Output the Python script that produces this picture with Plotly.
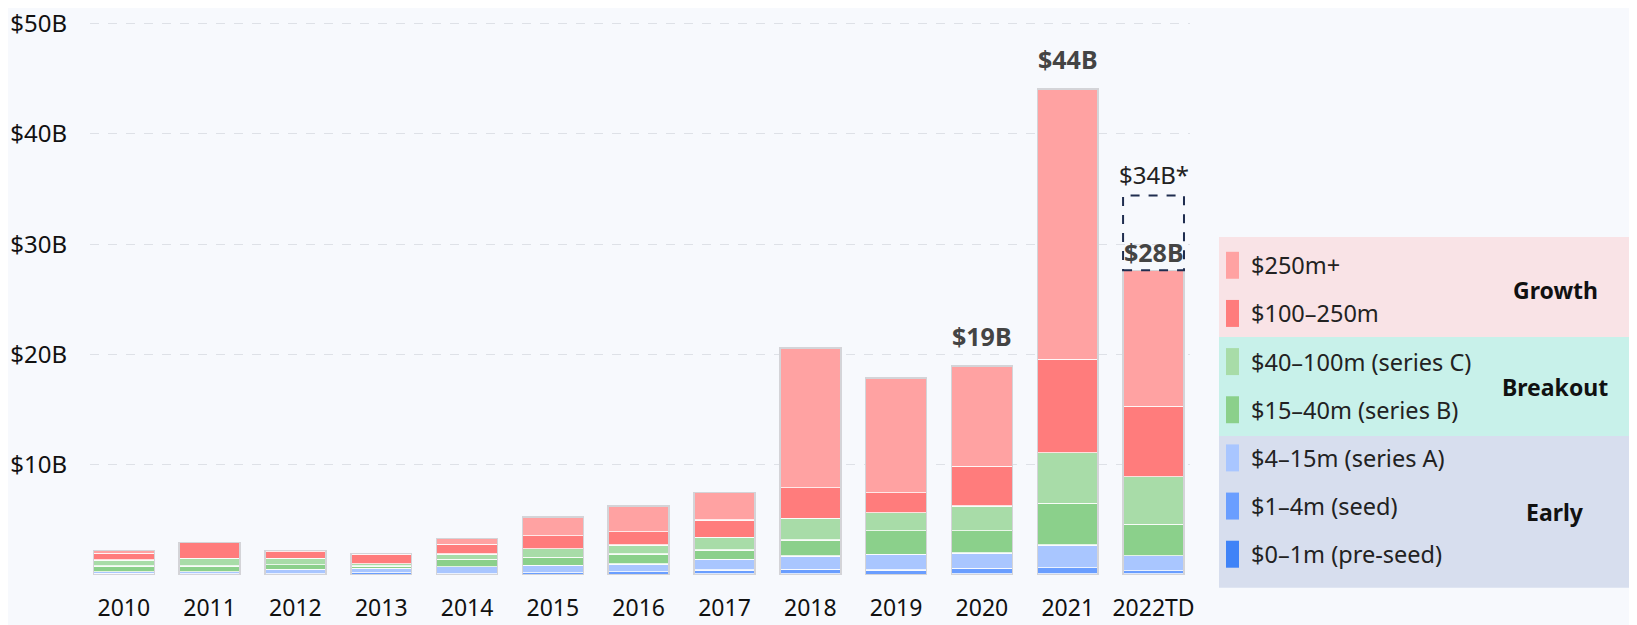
import plotly.graph_objects as go

years = ["2010", "2011", "2012", "2013", "2014", "2015", "2016", "2017", "2018", "2019", "2020", "2021", "2022TD"]

# values in $B, bottom to top of each stack
pre_seed = [0.05, 0.03, 0.03, 0.05, 0.03, 0.05, 0.08, 0.10, 0.10, 0.08, 0.10, 0.12, 0.10]
seed     = [0.10, 0.07, 0.07, 0.15, 0.07, 0.16, 0.22, 0.35, 0.42, 0.37, 0.51, 0.54, 0.29]
series_a = [0.15, 0.20, 0.42, 0.40, 0.65, 0.67, 0.70, 0.97, 1.20, 1.43, 1.39, 2.06, 1.36]
series_b = [0.52, 0.52, 0.40, 0.22, 0.67, 0.72, 0.90, 0.84, 1.45, 2.13, 2.01, 3.77, 2.84]
series_c = [0.54, 0.69, 0.59, 0.22, 0.48, 0.77, 0.82, 1.15, 1.96, 1.63, 2.24, 4.59, 4.31]
m100_250 = [0.61, 1.42, 0.60, 0.85, 0.88, 1.20, 1.20, 1.57, 2.78, 1.81, 3.62, 8.46, 6.41]
m250_plus = [0.23, 0.00, 0.10, 0.05, 0.54, 1.69, 2.33, 2.51, 12.69, 10.42, 9.06, 24.54, 12.32]

series_names = ["$0–1m (pre-seed)", "$1–4m (seed)", "$4–15m (series A)", "$15–40m (series B)",
                "$40–100m (series C)", "$100–250m", "$250m+"]
series_values = [pre_seed, seed, series_a, series_b, series_c, m100_250, m250_plus]
series_colors = ["#3F83F7", "#6A9EFF", "#A9C6FF", "#8BD08B", "#A8DCA8", "#FF7C7C", "#FFA2A2"]

labeled_years = ["2020", "2021", "2022TD"]
projection_2022 = 34.4
projection_label = "$34B*"

y_ticks = [0, 10, 20, 30, 40, 50]
y_ticktext = ["", "$10B", "$20B", "$30B", "$40B", "$50B"]

groups = [("Growth", ["$250m+", "$100–250m"], "#F9E3E6"),
          ("Breakout", ["$40–100m (series C)", "$15–40m (series B)"], "#C8F1EA"),
          ("Early", ["$4–15m (series A)", "$1–4m (seed)", "$0–1m (pre-seed)"], "#D7DEEE")]

FONT = "Noto Sans"
BG = "#F7F9FD"

totals = [sum(v[i] for v in series_values) for i in range(len(years))]

fig = go.Figure()
for name, vals, col in zip(series_names, series_values, series_colors):
    fig.add_trace(go.Bar(x=years, y=vals, name=name, marker=dict(color=col, line=dict(color="rgba(255,255,255,0.75)", width=1.2)),
                         hoverinfo="skip", showlegend=False))

# outline of whole stacks
fig.add_trace(go.Bar(x=years, y=totals, xaxis="x2", marker=dict(color="rgba(0,0,0,0)", line=dict(color="#D4D4D8", width=1.5)),
                     hoverinfo="skip", showlegend=False))

# page body has an 8px margin; figure sized to fill the rest of the window
OFF = 8
W, H = 1637 - OFF, 625 - OFF
L = 90 - OFF
R = 1637 - 1190
T = 17.5 - OFF
B = 625 - 575
pw, ph = W - L - R, H - T - B

def px2paper_x(px):
    return (px - OFF - L) / pw

def px2paper_y(py):
    return (H - B - (py - OFF)) / ph

shapes = []
annotations = []

# dashed projection box for 2022TD
i22 = years.index("2022TD")
shapes.append(dict(type="rect", xref="x", yref="y", x0=i22 - 0.355, x1=i22 + 0.355,
                   y0=totals[i22], y1=projection_2022, line=dict(color="#1F2D4F", width=2, dash="dash"),
                   fillcolor="rgba(0,0,0,0)", layer="above"))
annotations.append(dict(x=i22, y=projection_2022, xref="x", yref="y", text=projection_label, showarrow=False,
                        yanchor="bottom", yshift=3, font=dict(family=FONT, size=24, color="#222")))

label_shift = {"2020": 11, "2021": 11, "2022TD": -1}
for yr in labeled_years:
    i = years.index(yr)
    annotations.append(dict(x=i, y=totals[i], xref="x", yref="y", text=f"<b>${round(totals[i])}B</b>", showarrow=False,
                            yanchor="bottom", yshift=label_shift[yr], font=dict(family=FONT, size=25, color="#444")))

# custom legend
box_tops = [236.7, 336.7, 436.0]
box_bottoms = [336.7, 436.0, 587.7]
item_y0, item_step = 265.0, 48.2
k = 0
name_to_color = dict(zip(series_names, series_colors))
group_label_y = [290, 387, 512]
for gi, (gname, members, gcol) in enumerate(groups):
    shapes.append(dict(type="rect", xref="paper", yref="paper", x0=px2paper_x(1219), x1=px2paper_x(1640),
                       y0=px2paper_y(box_bottoms[gi]), y1=px2paper_y(box_tops[gi]), fillcolor=gcol,
                       line=dict(width=0), layer="below"))
    annotations.append(dict(x=px2paper_x(1555), y=px2paper_y(group_label_y[gi]), xref="paper", yref="paper",
                            text=f"<b>{gname}</b>", showarrow=False, xanchor="center", yanchor="middle",
                            font=dict(family=FONT, size=23, color="#111")))
    for m in members:
        cy = item_y0 + k * item_step
        shapes.append(dict(type="rect", xref="paper", yref="paper", x0=px2paper_x(1226), x1=px2paper_x(1239),
                           y0=px2paper_y(cy + 13.5), y1=px2paper_y(cy - 13.5), fillcolor=name_to_color[m],
                           line=dict(width=0)))
        annotations.append(dict(x=px2paper_x(1249), y=px2paper_y(cy), xref="paper", yref="paper", text=m,
                                showarrow=False, xanchor="left", yanchor="middle",
                                font=dict(family=FONT, size=23.5, color="#222")))
        k += 1

xr = [-0.394, 12.425]
fig.update_layout(
    width=W, height=H,
    margin=dict(l=L, r=R, t=T, b=B, autoexpand=False),
    paper_bgcolor=BG, plot_bgcolor=BG,
    barmode="stack", bargap=0.29,
    font=dict(family=FONT, size=23, color="#111"),
    shapes=shapes, annotations=annotations,
    xaxis=dict(type="category", categoryorder="array", categoryarray=years, range=xr, showgrid=False,
               showline=False, zeroline=False, ticks="", ticklabelstandoff=17, automargin=False,
               ticklabeloverflow="allow", tickfont=dict(family=FONT, size=23, color="#111")),
    xaxis2=dict(type="category", categoryorder="array", categoryarray=years, range=xr, overlaying="x",
                visible=False, matches="x"),
    yaxis=dict(range=[0, 50.5], tickvals=y_ticks, ticktext=y_ticktext, showgrid=True, gridcolor="#DEE1E7",
               griddash="dash", gridwidth=1, zeroline=False, showline=False, ticks="", ticklabelstandoff=22,
               automargin=False, ticklabeloverflow="allow", tickfont=dict(family=FONT, size=24, color="#111")),
)

fig.write_html("out.html")
